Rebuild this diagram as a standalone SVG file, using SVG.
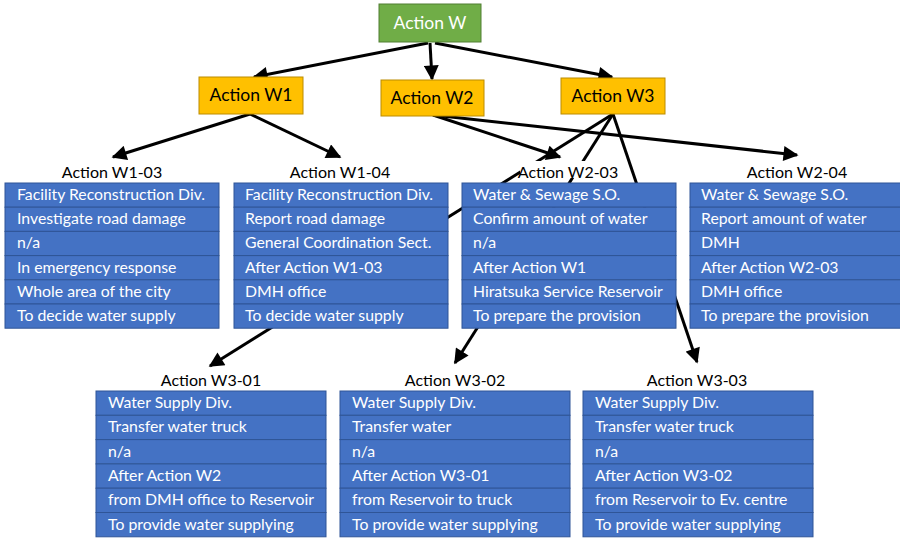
<svg xmlns="http://www.w3.org/2000/svg" width="900" height="538" viewBox="0 0 900 538">
  <style>
    .bg { fill: #ffffff; }
    .green { fill: #70AD47; stroke: #507E32; stroke-width: 1; }
    .orange { fill: #FFC000; stroke: #BC8C00; stroke-width: 1; }
    .boxw { font-family: Lato, "Open Sans", sans-serif; font-size: 17.5px; fill: #ffffff; text-anchor: middle; }
    .boxb { font-family: Lato, "Open Sans", sans-serif; font-size: 17.5px; fill: #000000; text-anchor: middle; }
    .cap { font-family: Lato, "Open Sans", sans-serif; font-size: 16px; fill: #000000; text-anchor: middle; }
    .capbg { fill: #ffffff; }
    .cell { fill: #4472C4; stroke: #2F5597; stroke-width: 1; }
    .ct { font-family: Lato, "Open Sans", sans-serif; font-size: 15.8px; fill: #ffffff; }
    .edge { stroke: #000000; stroke-width: 3; fill: none; marker-end: url(#ah); }
  </style>
  <defs>
    <marker id="ah" viewBox="0 0 10 10" refX="9" refY="5" markerWidth="5.3" markerHeight="5" orient="auto" markerUnits="strokeWidth">
      <path d="M0,0 L10,5 L0,10 z" fill="#000000"/>
    </marker>
    <!-- six-row table body; translate to place -->
    <g id="rows">
      <rect class="cell" x="0" y="0" width="214" height="24.2"/>
      <rect class="cell" x="0" y="24.2" width="214" height="24.2"/>
      <rect class="cell" x="0" y="48.4" width="214" height="24.2"/>
      <rect class="cell" x="0" y="72.6" width="214" height="24.2"/>
      <rect class="cell" x="0" y="96.8" width="214" height="24.2"/>
      <rect class="cell" x="0" y="121" width="214" height="24.2"/>
    </g>
    <g id="rowsWide">
      <rect class="cell" x="0" y="0" width="230" height="24.3"/>
      <rect class="cell" x="0" y="24.3" width="230" height="24.3"/>
      <rect class="cell" x="0" y="48.6" width="230" height="24.3"/>
      <rect class="cell" x="0" y="72.9" width="230" height="24.3"/>
      <rect class="cell" x="0" y="97.2" width="230" height="24.3"/>
      <rect class="cell" x="0" y="121.5" width="230" height="24.3"/>
    </g>
  </defs>

  <rect class="bg" x="0" y="0" width="900" height="538"/>

  <!-- connectors (drawn below the tables) -->
  <g id="connectors">
    <line class="edge" x1="428" y1="43" x2="254" y2="77"/>
    <line class="edge" x1="430" y1="43" x2="432" y2="79"/>
    <line class="edge" x1="435" y1="43" x2="612" y2="77"/>
    <line class="edge" x1="250" y1="114" x2="113" y2="157"/>
    <line class="edge" x1="250" y1="114" x2="340" y2="157"/>
    <line class="edge" x1="433" y1="115" x2="560" y2="157"/>
    <line class="edge" x1="433" y1="115" x2="797" y2="155"/>
    <line class="edge" x1="613" y1="114" x2="210" y2="366"/>
    <line class="edge" x1="613" y1="114" x2="455" y2="363"/>
    <line class="edge" x1="613" y1="114" x2="697" y2="362"/>
  </g>

  <g id="action-w">
    <rect class="green" x="379" y="4" width="102" height="38"/>
    <text class="boxw" x="430" y="29">Action W</text>
  </g>
  <g id="action-w1">
    <rect class="orange" x="199" y="77" width="104" height="37"/>
    <text class="boxb" x="251" y="101">Action W1</text>
  </g>
  <g id="action-w2">
    <rect class="orange" x="381" y="80" width="103" height="36"/>
    <text class="boxb" x="432" y="104">Action W2</text>
  </g>
  <g id="action-w3">
    <rect class="orange" x="561" y="78" width="104" height="36"/>
    <text class="boxb" x="613" y="102">Action W3</text>
  </g>

  <g id="action-w1-03">
    <text class="cap" x="112" y="178">Action W1-03</text>
    <use href="#rows" x="5" y="183"/>
    <text class="ct" x="17" y="200">Facility Reconstruction Div.</text>
    <text class="ct" x="17" y="224">Investigate road damage</text>
    <text class="ct" x="17" y="248">n/a</text>
    <text class="ct" x="17" y="273">In emergency response</text>
    <text class="ct" x="17" y="297">Whole area of the city</text>
    <text class="ct" x="17" y="321">To decide water supply</text>
  </g>

  <g id="action-w1-04">
    <text class="cap" x="340" y="178">Action W1-04</text>
    <use href="#rows" x="234" y="183"/>
    <text class="ct" x="245" y="200">Facility Reconstruction Div.</text>
    <text class="ct" x="245" y="224">Report road damage</text>
    <text class="ct" x="245" y="248">General Coordination Sect.</text>
    <text class="ct" x="245" y="273">After Action W1-03</text>
    <text class="ct" x="245" y="297">DMH office</text>
    <text class="ct" x="245" y="321">To decide water supply</text>
  </g>

  <g id="action-w2-03">
    <rect class="capbg" x="520" y="161" width="97" height="17"/>
    <text class="cap" x="568" y="178">Action W2-03</text>
    <use href="#rows" x="462" y="183"/>
    <text class="ct" x="473" y="200">Water &amp; Sewage S.O.</text>
    <text class="ct" x="473" y="224">Confirm amount of water</text>
    <text class="ct" x="473" y="248">n/a</text>
    <text class="ct" x="473" y="273">After Action W1</text>
    <text class="ct" x="473" y="297">Hiratsuka Service Reservoir</text>
    <text class="ct" x="473" y="321">To prepare the provision</text>
  </g>

  <g id="action-w2-04">
    <text class="cap" x="797" y="178">Action W2-04</text>
    <use href="#rows" x="690" y="183"/>
    <text class="ct" x="701" y="200">Water &amp; Sewage S.O.</text>
    <text class="ct" x="701" y="224">Report amount of water</text>
    <text class="ct" x="701" y="248">DMH</text>
    <text class="ct" x="701" y="273">After Action W2-03</text>
    <text class="ct" x="701" y="297">DMH office</text>
    <text class="ct" x="701" y="321">To prepare the provision</text>
  </g>

  <g id="action-w3-01">
    <text class="cap" x="211" y="386">Action W3-01</text>
    <use href="#rowsWide" x="96" y="391"/>
    <text class="ct" x="108" y="408">Water Supply Div.</text>
    <text class="ct" x="108" y="432">Transfer water truck</text>
    <text class="ct" x="108" y="457">n/a</text>
    <text class="ct" x="108" y="481">After Action W2</text>
    <text class="ct" x="108" y="505">from DMH office to Reservoir</text>
    <text class="ct" x="108" y="530">To provide water supplying</text>
  </g>

  <g id="action-w3-02">
    <text class="cap" x="455" y="386">Action W3-02</text>
    <use href="#rowsWide" x="340" y="391"/>
    <text class="ct" x="352" y="408">Water Supply Div.</text>
    <text class="ct" x="352" y="432">Transfer water</text>
    <text class="ct" x="352" y="457">n/a</text>
    <text class="ct" x="352" y="481">After Action W3-01</text>
    <text class="ct" x="352" y="505">from Reservoir to truck</text>
    <text class="ct" x="352" y="530">To provide water supplying</text>
  </g>

  <g id="action-w3-03">
    <text class="cap" x="697" y="386">Action W3-03</text>
    <use href="#rowsWide" x="583" y="391"/>
    <text class="ct" x="595" y="408">Water Supply Div.</text>
    <text class="ct" x="595" y="432">Transfer water truck</text>
    <text class="ct" x="595" y="457">n/a</text>
    <text class="ct" x="595" y="481">After Action W3-02</text>
    <text class="ct" x="595" y="505">from Reservoir to Ev. centre</text>
    <text class="ct" x="595" y="530">To provide water supplying</text>
  </g>
</svg>
